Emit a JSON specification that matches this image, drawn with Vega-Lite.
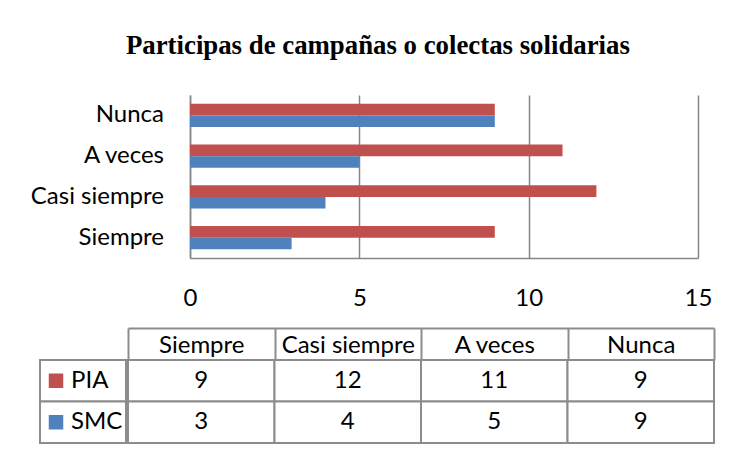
{
  "$schema": "https://vega.github.io/schema/vega-lite/v6.json",
  "padding": {"left": 30, "top": 33, "right": 5, "bottom": 5},
  "background": "white",
  "config": {"view": {"stroke": null}, "font": "Lato"},
  "title": {"text": "Participas de campañas o colectas solidarias", "font": "Liberation Serif", "fontSize": 26.8, "fontWeight": "bold", "color": "black", "anchor": "middle", "frame": "bounds", "offset": 35, "dx": 5},
  "datasets": {
    "d": [
      {"categoria": "Siempre", "serie": "PIA", "valor": 9},
      {"categoria": "Casi siempre", "serie": "PIA", "valor": 12},
      {"categoria": "A veces", "serie": "PIA", "valor": 11},
      {"categoria": "Nunca", "serie": "PIA", "valor": 9},
      {"categoria": "Siempre", "serie": "SMC", "valor": 3},
      {"categoria": "Casi siempre", "serie": "SMC", "valor": 4},
      {"categoria": "A veces", "serie": "SMC", "valor": 5},
      {"categoria": "Nunca", "serie": "SMC", "valor": 9}
    ]
  },
  "spacing": 17,
  "vconcat": [
    {
      "spacing": 0,
      "bounds": "flush",
      "hconcat": [
        {
          "width": 150,
          "height": 163,
          "data": {"name": "d"},
          "transform": [{"aggregate": [{"op": "count", "as": "n"}], "groupby": ["categoria"]}],
          "mark": {"type": "text", "align": "right", "dx": 49, "fontSize": 24, "color": "black"},
          "encoding": {
            "y": {"field": "categoria", "type": "nominal", "sort": ["Nunca", "A veces", "Casi siempre", "Siempre"],
              "scale": {"paddingInner": 0.435, "paddingOuter": 0.2175}, "axis": null},
            "text": {"field": "categoria"}
          }
        },
        {
          "width": 508,
          "height": 163,
          "data": {"name": "d"},
          "mark": {"type": "bar"},
          "encoding": {
            "y": {"field": "categoria", "type": "nominal", "sort": ["Nunca", "A veces", "Casi siempre", "Siempre"],
              "scale": {"paddingInner": 0.435, "paddingOuter": 0.2175},
              "axis": {"title": null, "domain": true, "domainColor": "#868686", "domainWidth": 1.5, "ticks": false, "labels": false}},
            "yOffset": {"field": "serie", "sort": ["PIA", "SMC"]},
            "x": {"field": "valor", "type": "quantitative", "scale": {"domain": [0, 15]},
              "axis": {"title": null, "values": [0, 5, 10, 15], "labelFlush": false, "grid": true, "gridColor": "#868686", "gridWidth": 1.5, "domain": true, "domainColor": "#868686", "domainWidth": 1.5, "ticks": false, "labelPadding": 28, "labelFontSize": 24, "labelColor": "black", "labelFont": "Lato"}},
            "color": {"field": "serie", "type": "nominal", "scale": {"domain": ["PIA", "SMC"], "range": ["#C0504D", "#4F81BD"]}, "legend": null}
          }
        }
      ]
    },
    {
      "spacing": 0,
      "hconcat": [
        {
          "width": 86,
          "height": 83,
          "data": {"name": "d"},
          "transform": [{"aggregate": [{"op": "count", "as": "n"}], "groupby": ["serie"]}],
          "encoding": {
            "y": {"field": "serie", "type": "nominal", "sort": ["PIA", "SMC"], "scale": {"padding": 0}, "axis": null}
          },
          "layer": [
            {"mark": {"type": "rect", "fill": "white", "stroke": "#8c8c8c", "strokeWidth": 2}},
            {"mark": {"type": "point", "shape": "square", "filled": true, "size": 210, "opacity": 1, "xOffset": -27},
             "encoding": {"color": {"field": "serie", "type": "nominal", "scale": {"domain": ["PIA", "SMC"], "range": ["#C0504D", "#4F81BD"]}, "legend": null}}},
            {"mark": {"type": "text", "align": "left", "dx": -12, "fontSize": 24, "color": "black"},
             "encoding": {"text": {"field": "serie"}}}
          ]
        },
        {
          "width": 586,
          "height": 83,
          "data": {"name": "d"},
          "encoding": {
            "x": {"field": "categoria", "type": "nominal", "sort": ["Siempre", "Casi siempre", "A veces", "Nunca"], "scale": {"padding": 0},
              "axis": {"orient": "top", "title": null, "offset": 32, "domain": true, "domainColor": "#8c8c8c", "domainWidth": 2, "ticks": true, "tickBand": "extent", "tickSize": -32, "tickColor": "#8c8c8c", "tickWidth": 2, "labelPadding": 15, "labelBaseline": "middle", "labelAngle": 0, "labelFontSize": 24, "labelColor": "black", "labelFont": "Lato"}},
            "y": {"field": "serie", "type": "nominal", "sort": ["PIA", "SMC"], "scale": {"padding": 0}, "axis": null}
          },
          "layer": [
            {"mark": {"type": "rect", "fill": "white", "stroke": "#8c8c8c", "strokeWidth": 2}},
            {"mark": {"type": "text", "fontSize": 24, "color": "black"},
             "encoding": {"text": {"field": "valor", "type": "quantitative"}}}
          ]
        }
      ]
    }
  ]
}
